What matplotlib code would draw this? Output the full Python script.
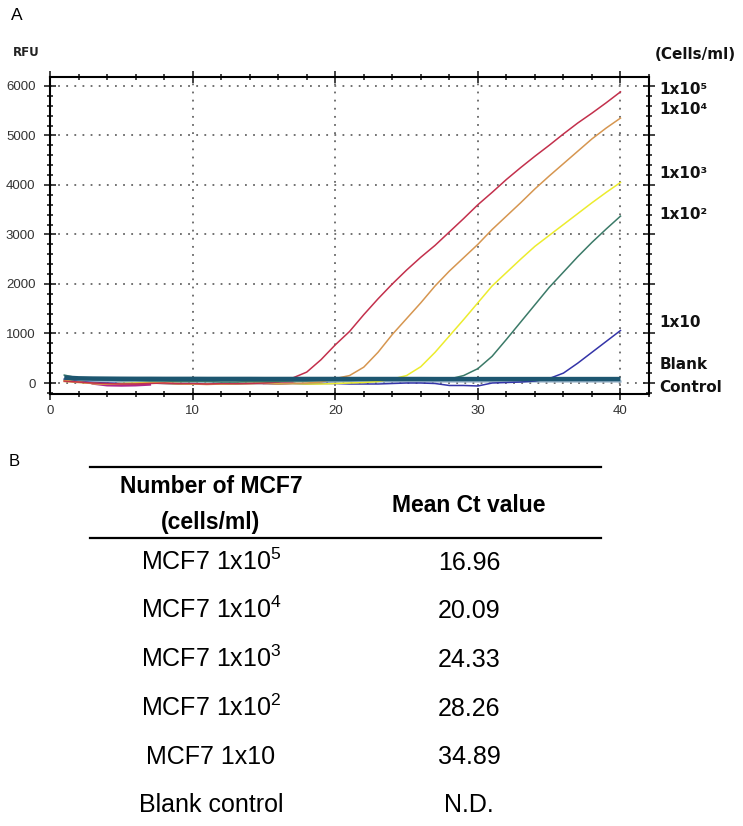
import numpy as np
import matplotlib as mpl
mpl.use('Agg')
import matplotlib.pyplot as plt
from matplotlib.ticker import MultipleLocator

mpl.rcParams['mathtext.fontset'] = 'custom'
mpl.rcParams['mathtext.rm'] = 'Liberation Sans'
mpl.rcParams['mathtext.it'] = 'Liberation Sans:italic'
mpl.rcParams['mathtext.bf'] = 'Liberation Sans:bold'

# ---- panel A: amplification curves (RFU per cycle) ----
cycles = list(range(1, 41))
nan = np.nan

red_1e5 = [40, 20, 0, -10, -20, -20, -10, 0, -10, -10,
           -20, -10, -10, -10, 0, 20, 100, 220, 470, 770,
           1040, 1380, 1700, 2000, 2280, 2540, 2780, 3050, 3320, 3600,
           3850, 4110, 4350, 4580, 4800, 5030, 5250, 5450, 5660, 5880]
orange_1e4 = [30, 10, -10, -20, -20, -10, 0, -10, -20, -20,
              -30, -20, -20, -10, -10, -20, -10, 0, 20, 90,
              150, 320, 620, 980, 1300, 1620, 1960, 2260, 2530, 2800,
              3100, 3370, 3640, 3920, 4180, 4430, 4680, 4930, 5150, 5350]
yellow_1e3 = [50, 20, -10, -20, -10, 0, 10, 0, -10, -20,
              -20, -20, -10, -10, 0, -10, -10, -20, -20, -10,
              0, 10, 30, 80, 150, 330, 620, 950, 1280, 1620,
              1960, 2230, 2500, 2760, 2980, 3200, 3420, 3640, 3850, 4050]
green_1e2 = [160, 100, 70, 60, 50, 50, 40, 40, 30, 30,
             30, 20, 20, 30, 30, 30, 40, 40, 50, 50,
             50, 60, 60, 70, 70, 70, 70, 80, 150, 290,
             540, 880, 1230, 1580, 1930, 2240, 2550, 2840, 3110, 3370]
blue_1e1 = [80, 30, 10, 0, -10, -10, 0, -10, -20, -20,
            -20, -20, -20, -10, -10, -20, -10, -20, -10, -10,
            -20, -20, -20, -10, 0, 0, -10, -50, -50, -60,
            0, 10, 20, 40, 90, 200, 400, 620, 840, 1060]
magenta_base = [nan, nan, -10, -45, -50, -45, -30, nan, nan, nan,
                nan, nan, nan, nan, 0, 20, 10, nan, nan, nan,
                nan, nan, nan, nan, nan, nan, nan, nan, nan, nan,
                nan, nan, nan, nan, nan, nan, nan, nan, nan, nan]
light_base = [60, 40, 35, 30, 30, 30, 30, 30, 30, 30,
              30, 30, 30, 30, 30, 30, 30, 30, 30, 30,
              30, 30, 30, 30, 30, 30, 30, 30, 30, 30,
              30, 30, 30, 30, 30, 30, 30, 30, 30, 30]
blank_ctrl = [110, 95, 90, 88, 86, 85, 85, 84, 84, 84,
              83, 83, 83, 83, 82, 82, 82, 82, 82, 82,
              81, 81, 81, 81, 81, 81, 80, 80, 80, 80,
              80, 80, 80, 80, 80, 80, 80, 80, 80, 80]

right_labels = ['(Cells/ml)', '1x10\u2075', '1x10\u2074', '1x10\u00b3', '1x10\u00b2', '1x10', 'Blank', 'Control']
right_label_y = [6630, 5920, 5515, 4240, 3395, 1230, 365, -100]

# ---- panel B: table ----
col_headers = [['Number of MCF7', '(cells/ml)'], ['Mean Ct value']]
groups = ['MCF7 1x10$^{5}$', 'MCF7 1x10$^{4}$', 'MCF7 1x10$^{3}$', 'MCF7 1x10$^{2}$', 'MCF7 1x10', 'Blank control']
mean_ct = [16.96, 20.09, 24.33, 28.26, 34.89, None]

W, H = 743, 826
fig = plt.figure(figsize=(W / 100, H / 100), dpi=100)

# overlay in pixel coords for table and panel letters
ov = fig.add_axes([0, 0, 1, 1])
ov.set_xlim(0, W)
ov.set_ylim(H, 0)
ov.axis('off')
ov.patch.set_alpha(0)

ax = fig.add_axes([50 / W, 1 - 394 / H, 599 / W, 317 / H])

ax.plot(cycles, light_base, color='#9db7cc', lw=1.6, zorder=2)
ax.plot(cycles, magenta_base, color='#b0288c', lw=1.8, zorder=2)
ax.plot(cycles, blue_1e1, color='#3434a8', lw=1.1, zorder=2)
ax.plot(cycles, yellow_1e3, color='#ecec2e', lw=1.1, zorder=2)
ax.plot(cycles, orange_1e4, color='#d69650', lw=1.1, zorder=2)
ax.plot(cycles, red_1e5, color='#c3304c', lw=1.1, zorder=2)
ax.plot(cycles, green_1e2, color='#3b7a68', lw=1.1, zorder=2)
ax.plot(cycles, blank_ctrl, color='#1d5670', lw=3.2, zorder=3, solid_capstyle='butt')

ax.set_xlim(0, 42)
ax.set_ylim(-222, 6180)
ax.xaxis.set_major_locator(MultipleLocator(10))
ax.xaxis.set_minor_locator(MultipleLocator(2))
ax.yaxis.set_major_locator(MultipleLocator(1000))
ax.yaxis.set_minor_locator(MultipleLocator(200))
ax.grid(True, which='major', color='#666666', linestyle=(0, (1, 3.5)), lw=1.3)
ax.set_axisbelow(True)
for s in ax.spines.values():
    s.set_linewidth(1.5)
ax.tick_params(which='both', direction='inout', top=True, right=True, width=1.2, colors='#222222')
ax.tick_params(which='major', length=8)
ax.tick_params(which='minor', length=5)
ax.tick_params(axis='y', which='major', pad=6.5, labelsize=9.5, labelcolor='#333333')
ax.tick_params(axis='x', which='major', pad=4, labelsize=9.5, labelcolor='#333333')
for lab in ax.get_xticklabels() + ax.get_yticklabels():
    lab.set_family('Liberation Sans')

for txt, yv in zip(right_labels, right_label_y):
    xv = 42.4 if txt.startswith('(') else 42.75
    ax.text(xv, yv, txt, fontsize=11, fontweight='bold', family='DejaVu Sans',
            va='center', ha='left', color='#111111', clip_on=False)

ov.text(13, 53, 'RFU', fontsize=8.5, fontweight='bold', family='DejaVu Sans', va='center', ha='left', color='#222222')
ov.text(11, 15, 'A', fontsize=12.5, family='Liberation Sans', va='center', ha='left')
ov.text(9, 462, 'B', fontsize=12, family='Liberation Sans', va='center', ha='left')

# table
ov.plot([90, 601], [467, 467], color='black', lw=1.6)
ov.plot([90, 601], [538, 538], color='black', lw=1.6)
c1, c2 = 211, 469
ov.text(c1, 493, col_headers[0][0], fontsize=16.5, fontweight='bold', family='Liberation Sans', ha='center', va='baseline')
ov.text(c1, 529, col_headers[0][1], fontsize=16.5, fontweight='bold', family='Liberation Sans', ha='center', va='baseline')
ov.text(c2, 512, col_headers[1][0], fontsize=16.5, fontweight='bold', family='Liberation Sans', ha='center', va='baseline')

for i, (g, v) in enumerate(zip(groups, mean_ct)):
    yb = 570 + i * 48.5
    ov.text(c1, yb, g, fontsize=18, family='Liberation Sans', ha='center', va='baseline')
    vs = 'N.D.' if v is None else '%.2f' % v
    ov.text(c2, yb, vs, fontsize=18, family='Liberation Sans', ha='center', va='baseline')

fig.savefig('out.png', dpi=100)
plt.close(fig)
